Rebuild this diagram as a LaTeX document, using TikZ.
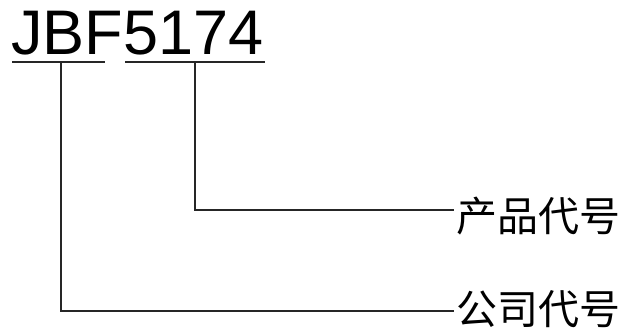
\documentclass[tikz,border=0pt]{standalone}
\usepackage{fontspec}
\setmainfont{Liberation Sans}
\newfontfamily\cjk{Noto Sans CJK SC}
\begin{document}
\begin{tikzpicture}[x=1pt,y=-1pt,
  rule/.style={line width=1.4pt, black!85},
  label/.style={anchor=west, inner sep=0pt, font=\cjk\fontsize{41}{41}\selectfont}]
\useasboundingbox (0,0) rectangle (631,331);
\node[anchor=base west, inner sep=0pt, font=\fontsize{63}{63}\selectfont] (code) at (11,55) {JBF5174};
\coordinate (ua) at (12,62);
\coordinate (ub) at (105,62);
\coordinate (uc) at (125,62);
\coordinate (ud) at (265,62);
\coordinate (ca) at (61,62);
\coordinate (cb) at (195,62);
\coordinate (ea) at (454,311);
\coordinate (eb) at (454,210);
\node[label] (comp) at (456,309) {公司代号};
\node[label] (prod) at (456,216) {产品代号};
\draw[rule] (ua) -- (ub);
\draw[rule] (uc) -- (ud);
\draw[rule] (ca) |- (ea);
\draw[rule] (cb) |- (eb);
\end{tikzpicture}
\end{document}
